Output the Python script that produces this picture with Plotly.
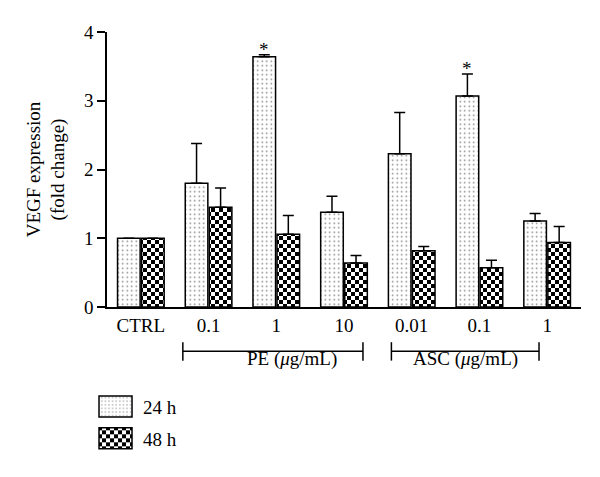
import plotly.graph_objects as go

# fold change of VEGF expression
categories = ["CTRL", "0.1", "1", "10", "0.01", "0.1", "1"]
h24 = [1.0, 1.80, 3.64, 1.38, 2.23, 3.07, 1.25]
h24_err = [0, 0.58, 0.03, 0.23, 0.60, 0.32, 0.11]
h48 = [1.0, 1.45, 1.06, 0.64, 0.82, 0.57, 0.94]
h48_err = [0, 0.28, 0.27, 0.11, 0.06, 0.11, 0.23]
starred = [2, 5]  # 24 h bars marked with *
# label, bracket start, bracket end, label centre (in category units)
brackets = [("PE (<i>μ</i>g/mL)", 0.62, 3.28, 2.23),
            ("ASC (<i>μ</i>g/mL)", 3.70, 5.88, 4.79)]

FONT = "Liberation Serif"
FS = 19
xs = list(range(len(categories)))

fig = go.Figure()
fig.add_trace(go.Bar(
    x=xs, y=h24, name="24 h", legendgroup="a",
    marker=dict(color="white", line=dict(color="black", width=1.5),
                pattern=dict(shape=".", size=4.5, solidity=0.1,
                             fgcolor="black", bgcolor="white")),
    error_y=dict(type="data", array=h24_err, arrayminus=[0] * len(xs), symmetric=False,
                 color="black", thickness=1.5, width=5.5),
))
fig.add_trace(go.Bar(
    x=xs, y=h48, name="48 h", legendgroup="b",
    marker=dict(color="white", line=dict(color="black", width=1.5),
                pattern=dict(shape="x", size=6, solidity=0.5,
                             fgcolor="black", bgcolor="white")),
    error_y=dict(type="data", array=h48_err, arrayminus=[0] * len(xs), symmetric=False,
                 color="black", thickness=1.5, width=5.5),
))

# asterisks
for i in starred:
    fig.add_annotation(x=i - 0.1775, y=h24[i] + h24_err[i], text="*", showarrow=False,
                       yanchor="bottom", yshift=-7, font=dict(size=FS, family=FONT, color="black"))

# concentration brackets under the axis
for label, x0, x1, xc in brackets:
    fig.add_shape(type="line", xref="x", yref="paper", x0=x0, x1=x1, y0=-0.161, y1=-0.161,
                  line=dict(color="black", width=1.5))
    for xe in (x0, x1):
        fig.add_shape(type="line", xref="x", yref="paper", x0=xe, x1=xe, y0=-0.128, y1=-0.195,
                      line=dict(color="black", width=1.5))
    fig.add_annotation(x=xc, y=-0.238, xref="x", yref="paper", text=label,
                       showarrow=False, font=dict(size=FS, family=FONT, color="black"))

fig.update_layout(
    width=600, height=477,
    margin=dict(l=107, r=19.3, t=31.7, b=170.3),
    plot_bgcolor="white", paper_bgcolor="white",
    barmode="group", bargap=0.29, bargroupgap=0.06,
    font=dict(family=FONT, size=FS, color="black"),
    showlegend=True,
    legend=dict(x=-0.0295, y=-0.2937, xanchor="left", yanchor="top", itemwidth=40,
                tracegroupgap=4, font=dict(size=FS, family=FONT), bgcolor="rgba(0,0,0,0)"),
    xaxis=dict(range=[-0.5, 6.5], tickvals=xs, ticktext=categories, showline=True,
               linecolor="black", linewidth=1.5, ticks="", showgrid=False, zeroline=False,
               tickfont=dict(size=FS, family=FONT)),
    yaxis=dict(range=[0, 4], dtick=1, showline=True, linecolor="black", linewidth=1.5,
               ticks="outside", ticklen=8, tickwidth=1.5, tickcolor="black",
               showgrid=False, zeroline=False, tickfont=dict(size=FS, family=FONT),
               title=dict(text="VEGF expression<br>(fold change)", standoff=14,
                          font=dict(size=FS, family=FONT))),
)

# real checkerboard texture and larger legend swatches
js = """
document.body.style.margin = '0';
var gd = document.getElementById('{plot_id}');
function fixup() {
  var ns = 'http://www.w3.org/2000/svg';
  var svg = gd.querySelector('svg.main-svg');
  var defs = svg.querySelector('defs');
  if (!document.getElementById('checker')) {
    var p = document.createElementNS(ns, 'pattern');
    p.setAttribute('id', 'checker');
    p.setAttribute('patternUnits', 'userSpaceOnUse');
    p.setAttribute('width', '8'); p.setAttribute('height', '8');
    var cells = [[0, 0, 8, 8, 'white'], [0, 0, 4, 4, 'black'], [4, 4, 4, 4, 'black']];
    cells.forEach(function (c) {
      var r = document.createElementNS(ns, 'rect');
      r.setAttribute('x', c[0]); r.setAttribute('y', c[1]);
      r.setAttribute('width', c[2]); r.setAttribute('height', c[3]);
      r.setAttribute('fill', c[4]);
      p.appendChild(r);
    });
    defs.appendChild(p);
  }
  var traces = gd.querySelectorAll('.barlayer .trace');
  if (traces.length > 1) {
    traces[1].querySelectorAll('.point path').forEach(function (e) { e.style.fill = 'url(#checker)'; });
  }
  var items = gd.querySelectorAll('.legend .traces');
  items.forEach(function (it, k) {
    it.querySelectorAll('.legendpoints path').forEach(function (e) {
      e.setAttribute('d', 'M14,10.5H-19V-10.5H14Z');
      if (k === 1) e.style.fill = 'url(#checker)';
    });
  });
}
fixup();
gd.on('plotly_afterplot', fixup);
"""

fig.write_html("out.html", post_script=js, config={"displayModeBar": False})
